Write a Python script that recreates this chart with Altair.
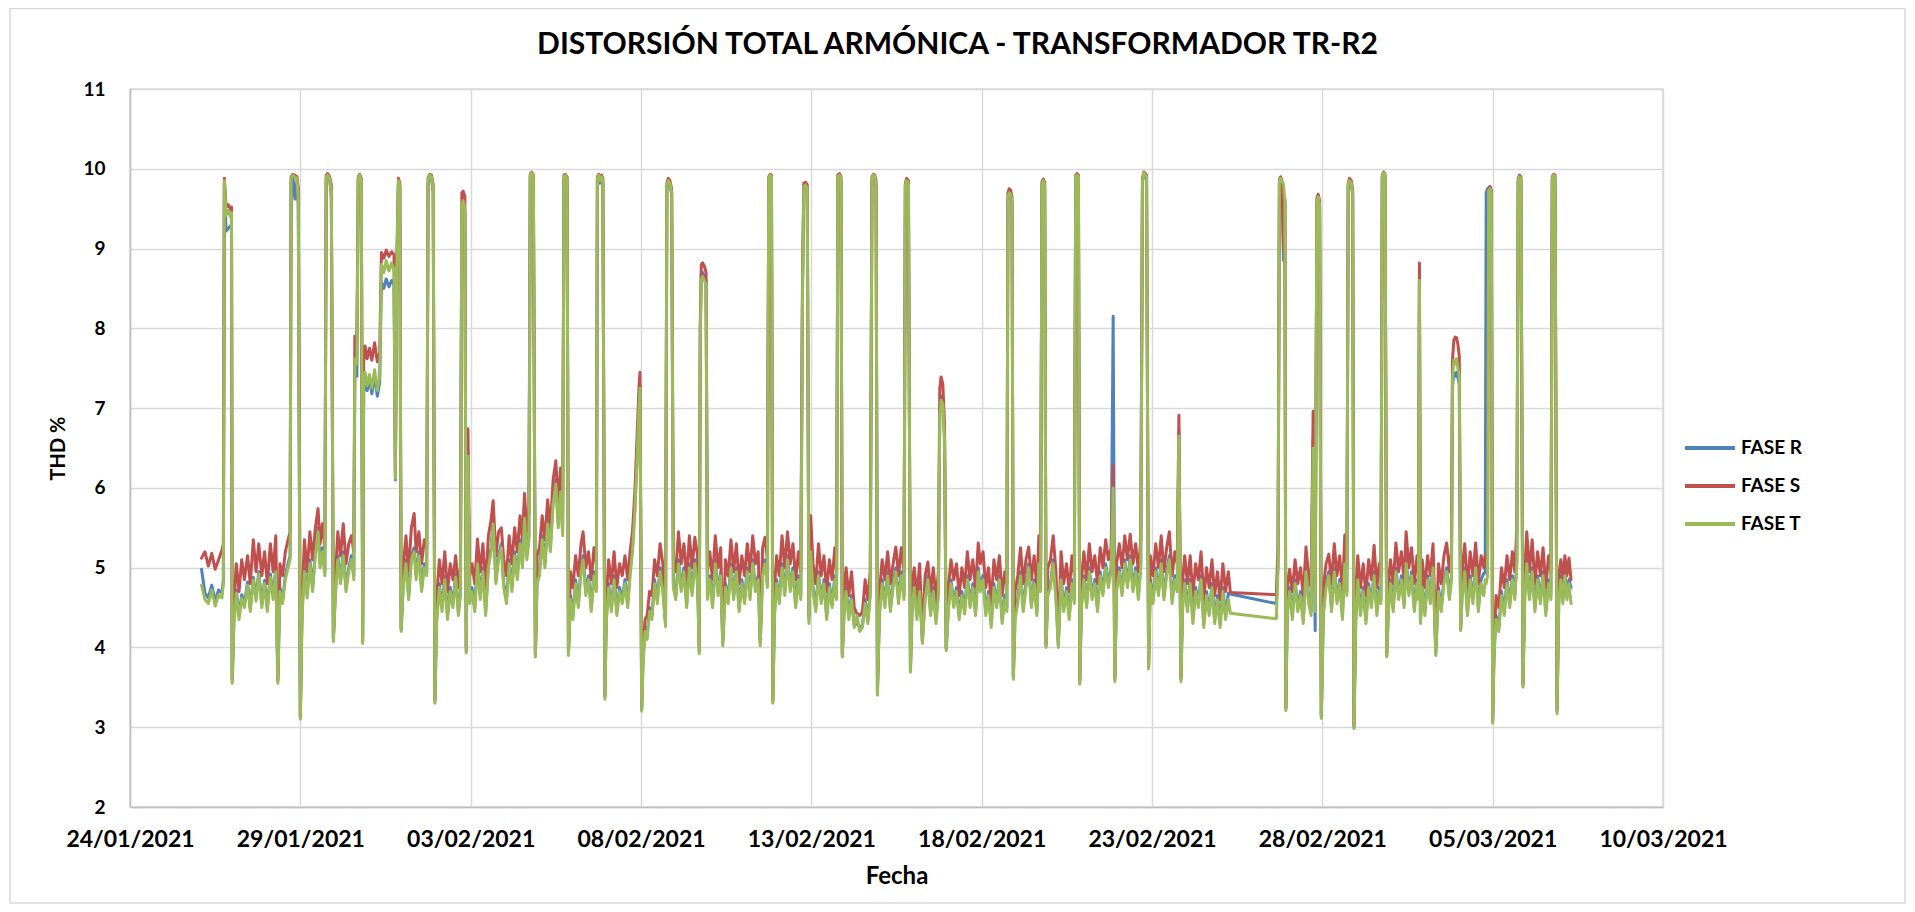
import altair as alt
import pandas as pd
import numpy as np

# ---------------- data ----------------
# time of each reading, in days counted from 24/01/2021 00:00, one sub-list per day
DAYS = [
    [2.10, 2.20, 2.30, 2.40, 2.50, 2.60, 2.70, 2.74, 2.77, 2.82, 2.88, 2.94, 2.98, 3.00],
    [3.05, 3.12, 3.20, 3.28, 3.36, 3.45, 3.53, 3.62, 3.70, 3.78, 3.87, 3.95],
    [4.03, 4.12, 4.20, 4.28, 4.34, 4.40, 4.48, 4.56, 4.64, 4.70, 4.73, 4.78, 4.84, 4.90, 4.94, 5.00],
    [5.05, 5.12, 5.20, 5.28, 5.36, 5.44, 5.52, 5.58, 5.65, 5.72, 5.76, 5.80, 5.86, 5.91, 5.97],
    [6.03, 6.10, 6.18, 6.26, 6.34, 6.42, 6.50, 6.57, 6.60, 6.66, 6.70, 6.74, 6.79, 6.83, 6.86, 6.90, 6.96],
    [7.03, 7.10, 7.18, 7.26, 7.33, 7.38, 7.45, 7.52, 7.60, 7.68, 7.75, 7.79, 7.83, 7.88, 7.92, 7.96],
    [8.02, 8.10, 8.18, 8.26, 8.34, 8.40, 8.48, 8.56, 8.64, 8.71, 8.75, 8.80, 8.85, 8.90, 8.95],
    [9.00, 9.08, 9.16, 9.24, 9.32, 9.40, 9.48, 9.56, 9.64, 9.70, 9.74, 9.78, 9.83, 9.87, 9.92, 9.97],
    [10.04, 10.12, 10.20, 10.28, 10.36, 10.44, 10.52, 10.60, 10.66, 10.74, 10.82, 10.90, 10.97],
    [11.05, 11.13, 11.21, 11.29, 11.37, 11.45, 11.52, 11.58, 11.65, 11.71, 11.75, 11.79, 11.84, 11.90, 11.95],
    [12.02, 12.10, 12.18, 12.26, 12.34, 12.42, 12.50, 12.57, 12.64, 12.70, 12.74, 12.78, 12.83, 12.87, 12.93],
    [13.00, 13.08, 13.16, 13.24, 13.30, 13.38, 13.46, 13.54, 13.62, 13.69, 13.72, 13.76, 13.80, 13.84, 13.88, 13.94],
    [13.98, 14.05, 14.13, 14.21, 14.29, 14.37, 14.45, 14.53, 14.61, 14.68, 14.75, 14.82, 14.88, 14.94, 14.97],
    [15.02, 15.06, 15.12, 15.18, 15.25, 15.32, 15.40, 15.48, 15.56, 15.64, 15.72, 15.76, 15.80, 15.85, 15.90, 15.95],
    [16.02, 16.10, 16.18, 16.26, 16.34, 16.42, 16.50, 16.58, 16.66, 16.71, 16.74, 16.77, 16.81, 16.86, 16.91, 16.95],
    [17.02, 17.10, 17.18, 17.26, 17.34, 17.40, 17.48, 17.56, 17.64, 17.72, 17.80, 17.88, 17.96],
    [18.04, 18.12, 18.20, 18.28, 18.36, 18.44, 18.50, 18.57, 18.64, 18.71, 18.75, 18.79, 18.83, 18.87, 18.92],
    [18.98, 19.06, 19.14, 19.22, 19.30, 19.38, 19.46, 19.54, 19.62, 19.69, 19.74, 19.78, 19.83, 19.88, 19.93, 19.98],
    [20.05, 20.13, 20.21, 20.29, 20.37, 20.45, 20.53, 20.61, 20.69, 20.74, 20.78, 20.83, 20.87, 20.91, 20.96],
    [21.02, 21.10, 21.18, 21.26, 21.34, 21.42, 21.50, 21.58, 21.66, 21.73, 21.78, 21.82, 21.86, 21.90, 21.94],
    [22.00, 22.08, 22.16, 22.24, 22.32, 22.40, 22.48, 22.56, 22.64, 22.72, 22.76, 22.80, 22.85, 22.91, 22.96],
    [23.02, 23.10, 23.18, 23.26, 23.34, 23.42, 23.50, 23.58, 23.66, 23.73, 23.77, 23.81, 23.86, 23.91, 23.96],
    [24.02, 24.10, 24.18, 24.26, 24.34, 24.42, 24.50, 24.58, 24.66, 24.74, 24.82, 24.90, 24.96],
    [25.04, 25.12, 25.20, 25.28, 25.36, 25.44, 25.52, 25.60, 25.68, 25.74, 25.77, 25.81, 25.85, 25.89, 25.93, 25.98],
    [26.06, 26.14, 26.22, 26.30, 26.38, 26.46, 26.54, 26.62, 26.68, 26.73, 26.77, 26.81, 26.85, 26.89, 26.94],
    [27.02, 27.10, 27.18, 27.25, 27.33, 27.41, 27.49, 27.57, 27.65, 27.72, 27.76, 27.80, 27.84, 27.88, 27.93],
    [28.00, 28.08, 28.16, 28.24, 28.32, 28.40, 28.48, 28.56, 28.64, 28.72, 28.80, 28.86, 28.91, 28.96],
    [29.04, 29.12, 29.20, 29.28, 29.36, 29.44, 29.52, 29.60, 29.67, 29.72, 29.76, 29.80, 29.84, 29.90, 29.95],
    [30.03, 30.11, 30.19, 30.27, 30.35, 30.43, 30.51, 30.59, 30.67, 30.74, 30.79, 30.85, 30.90, 30.96],
    [31.04, 31.12, 31.20, 31.28, 31.36, 31.44, 31.52, 31.60, 31.68, 31.76, 31.84, 31.92, 32.00, 32.08, 32.16, 32.24, 32.30],
    [33.65, 33.70, 33.74, 33.78, 33.82, 33.86, 33.90, 33.93, 33.97],
    [34.04, 34.12, 34.20, 34.28, 34.36, 34.44, 34.52, 34.60, 34.67, 34.73, 34.79, 34.84, 34.88, 34.92, 34.97],
    [35.03, 35.11, 35.19, 35.27, 35.35, 35.43, 35.51, 35.59, 35.66, 35.72, 35.76, 35.80, 35.85, 35.89, 35.93, 35.98],
    [36.04, 36.12, 36.20, 36.28, 36.36, 36.44, 36.52, 36.60, 36.67, 36.72, 36.76, 36.80, 36.84, 36.89, 36.94],
    [37.00, 37.08, 37.16, 37.24, 37.32, 37.40, 37.46, 37.54, 37.62, 37.70, 37.78, 37.82, 37.85, 37.88, 37.93],
    [38.01, 38.09, 38.17, 38.25, 38.33, 38.41, 38.49, 38.57, 38.65, 38.73, 38.79, 38.82, 38.86, 38.90, 38.94, 38.98, 39.02, 39.06],
    [39.10, 39.18, 39.26, 39.34, 39.42, 39.50, 39.58, 39.66, 39.74, 39.78, 39.81, 39.85, 39.88, 39.92, 39.96, 40.00],
    [40.04, 40.10, 40.18, 40.26, 40.34, 40.42, 40.50, 40.58, 40.65, 40.71, 40.75, 40.79, 40.83, 40.89, 40.94],
    [41.00, 41.08, 41.16, 41.24, 41.32, 41.40, 41.48, 41.56, 41.64, 41.71, 41.75, 41.79, 41.83, 41.89, 41.94],
    [42.00, 42.06, 42.12, 42.18, 42.24, 42.30],
]

FASE_T = [
    [4.78, 4.60, 4.55, 4.72, 4.52, 4.66, 4.62, 4.80, 9.85, 9.42, 9.48, 9.40, 9.45, 3.55],
    [4.30, 4.68, 4.35, 4.62, 4.50, 4.78, 4.45, 4.85, 4.58, 4.92, 4.50, 4.80],
    [4.45, 4.88, 4.60, 4.95, 3.55, 4.70, 4.55, 4.85, 5.00, 5.10, 9.88, 9.92, 9.90, 9.88, 9.60, 3.10],
    [4.40, 4.95, 4.62, 5.05, 4.70, 5.15, 5.45, 5.00, 5.20, 4.90, 9.90, 9.92, 9.88, 9.70, 4.07],
    [4.65, 5.10, 4.80, 5.15, 4.70, 4.95, 5.10, 4.85, 7.62, 7.55, 9.88, 9.92, 9.85, 4.05, 7.30, 7.45, 7.28],
    [7.42, 7.25, 7.48, 7.22, 7.40, 8.80, 8.70, 8.85, 8.72, 8.82, 8.75, 6.12, 8.70, 9.85, 9.80, 4.20],
    [4.75, 5.05, 4.60, 5.10, 5.20, 4.85, 5.15, 4.70, 5.00, 4.90, 9.85, 9.92, 9.90, 9.75, 3.30],
    [4.30, 4.75, 4.45, 4.85, 4.35, 4.70, 4.50, 4.88, 4.40, 4.65, 9.55, 9.60, 9.50, 3.93, 6.40, 4.55],
    [4.70, 4.45, 5.05, 4.60, 4.95, 4.40, 5.00, 5.20, 5.55, 4.80, 5.10, 5.25, 4.75],
    [4.55, 5.05, 4.70, 5.15, 4.85, 5.30, 5.00, 5.62, 5.10, 5.35, 9.92, 9.95, 9.90, 3.88, 4.80],
    [4.90, 5.35, 5.00, 5.55, 5.20, 5.80, 6.05, 5.50, 5.95, 5.40, 9.90, 9.92, 9.88, 3.90, 4.60],
    [4.35, 4.80, 4.50, 4.95, 5.10, 4.65, 4.85, 4.45, 4.90, 4.70, 9.88, 9.92, 9.85, 9.90, 9.85, 3.35],
    [4.30, 4.75, 4.45, 4.85, 4.40, 4.70, 4.55, 4.80, 4.50, 4.90, 5.20, 5.70, 6.30, 7.00, 7.25],
    [3.20, 3.80, 4.20, 4.10, 4.45, 4.35, 4.80, 4.55, 4.95, 4.70, 4.26, 9.80, 9.85, 9.82, 9.70, 4.75],
    [4.60, 5.05, 4.70, 4.95, 4.50, 5.00, 4.65, 5.05, 4.80, 3.92, 7.95, 8.62, 8.65, 8.60, 8.55, 4.60],
    [4.85, 4.50, 5.05, 4.65, 4.90, 4.02, 4.75, 4.55, 5.00, 4.60, 4.95, 4.45, 4.80],
    [4.55, 4.95, 4.60, 5.05, 4.70, 4.85, 4.02, 4.90, 5.05, 4.75, 9.88, 9.92, 9.90, 3.30, 4.40],
    [4.80, 4.55, 5.00, 4.65, 5.10, 4.70, 4.95, 4.50, 4.85, 4.60, 8.40, 9.78, 9.80, 9.75, 4.30, 5.20],
    [4.70, 4.45, 4.90, 4.55, 4.80, 4.35, 4.75, 4.50, 4.85, 4.60, 9.90, 9.92, 9.88, 3.88, 4.40],
    [4.70, 4.35, 4.60, 4.25, 4.40, 4.20, 4.25, 4.55, 4.30, 4.65, 9.88, 9.92, 9.90, 9.80, 3.40],
    [4.40, 4.80, 4.50, 4.90, 4.45, 4.75, 4.95, 4.55, 4.90, 4.60, 9.80, 9.85, 9.82, 3.69, 4.50],
    [4.75, 4.35, 4.70, 4.05, 4.60, 4.85, 4.40, 4.70, 4.30, 4.65, 6.90, 7.10, 7.05, 6.60, 3.96],
    [4.45, 4.80, 4.50, 4.70, 4.35, 4.65, 4.42, 4.85, 4.50, 4.75, 4.40, 4.95, 4.70],
    [4.85, 4.40, 4.65, 4.25, 4.75, 4.50, 4.85, 4.30, 4.60, 4.45, 9.65, 9.70, 9.68, 9.60, 3.60, 4.35],
    [4.55, 4.90, 4.45, 4.75, 5.00, 4.50, 4.80, 4.40, 5.05, 4.70, 9.82, 9.85, 9.80, 4.00, 4.65],
    [4.75, 5.05, 4.60, 4.00, 4.85, 4.45, 4.70, 4.35, 4.80, 4.55, 9.90, 9.92, 9.90, 3.54, 4.50],
    [4.85, 4.50, 4.95, 4.60, 4.80, 4.45, 4.90, 4.65, 5.00, 4.75, 4.95, 6.00, 3.57, 4.70],
    [4.95, 4.65, 5.05, 4.75, 5.10, 4.70, 4.95, 4.60, 5.00, 9.85, 9.95, 9.92, 9.90, 3.73, 4.80],
    [4.55, 4.95, 4.65, 5.05, 4.60, 4.90, 5.10, 4.55, 4.85, 4.70, 6.65, 3.57, 4.50, 4.80],
    [4.45, 4.80, 4.30, 4.70, 4.50, 4.85, 4.25, 4.65, 4.40, 4.75, 4.30, 4.60, 4.25, 4.70, 4.35, 4.60, 4.43],
    [4.36, 5.00, 9.85, 9.88, 9.85, 9.80, 9.60, 3.21, 4.40],
    [4.70, 4.35, 4.80, 4.45, 4.65, 4.30, 4.95, 4.55, 4.40, 6.50, 4.45, 9.60, 9.65, 9.55, 3.11],
    [4.40, 4.75, 4.90, 4.45, 4.95, 4.55, 4.80, 4.35, 5.05, 4.65, 9.80, 9.85, 9.82, 9.70, 2.98, 4.30],
    [4.85, 4.40, 4.70, 4.30, 4.75, 4.50, 4.90, 4.40, 4.70, 4.55, 9.90, 9.95, 9.92, 3.88, 4.45],
    [4.80, 4.45, 4.95, 4.60, 4.85, 4.50, 5.05, 4.65, 4.90, 4.45, 4.80, 4.60, 8.60, 4.30, 4.75],
    [4.40, 4.85, 4.55, 5.00, 3.90, 4.70, 4.45, 4.80, 4.95, 4.60, 4.85, 7.35, 7.60, 7.55, 7.62, 7.50, 7.40, 4.21],
    [4.60, 4.95, 4.40, 4.85, 4.55, 5.00, 4.45, 4.80, 4.65, 4.85, 4.80, 4.90, 9.72, 9.75, 9.70, 3.05],
    [3.90, 4.35, 4.20, 4.65, 4.40, 4.80, 4.50, 4.85, 4.60, 5.05, 9.85, 9.90, 9.88, 3.50, 4.60],
    [5.05, 4.60, 4.95, 4.45, 4.85, 4.55, 4.90, 4.40, 4.80, 4.60, 9.88, 9.92, 9.90, 3.17, 4.55],
    [4.85, 4.55, 4.90, 4.60, 4.80, 4.55],
]

FASE_S = [
    [5.12, 5.20, 5.02, 5.18, 4.98, 5.10, 5.22, 5.30, 9.88, 9.52, 9.55, 9.50, 9.52, 3.60],
    [4.55, 5.05, 4.70, 5.10, 4.85, 5.15, 4.80, 5.35, 4.95, 5.30, 4.90, 5.20],
    [4.80, 5.30, 4.95, 5.40, 3.60, 5.05, 4.90, 5.20, 5.35, 5.45, 9.90, 9.93, 9.92, 9.90, 9.75, 3.15],
    [4.60, 5.35, 4.95, 5.45, 5.10, 5.50, 5.74, 5.30, 5.55, 5.25, 9.92, 9.94, 9.90, 9.80, 4.12],
    [4.90, 5.45, 5.15, 5.55, 5.05, 5.30, 5.40, 5.20, 7.90, 7.85, 9.90, 9.93, 9.88, 4.10, 7.60, 7.78, 7.62],
    [7.75, 7.60, 7.82, 7.58, 7.70, 8.95, 8.88, 8.98, 8.90, 8.96, 8.92, 6.20, 8.85, 9.88, 9.82, 4.25],
    [5.00, 5.40, 4.95, 5.50, 5.68, 5.20, 5.45, 5.05, 5.35, 5.25, 9.88, 9.93, 9.92, 9.80, 3.35],
    [4.60, 5.10, 4.80, 5.20, 4.70, 5.05, 4.85, 5.15, 4.75, 5.00, 9.70, 9.72, 9.65, 4.00, 6.74, 4.90],
    [5.05, 4.80, 5.36, 4.95, 5.30, 4.75, 5.40, 5.60, 5.84, 5.15, 5.45, 5.50, 5.10],
    [4.90, 5.40, 5.05, 5.50, 5.20, 5.65, 5.35, 5.93, 5.45, 5.70, 9.93, 9.96, 9.92, 3.92, 5.15],
    [5.25, 5.65, 5.35, 5.85, 5.50, 6.10, 6.34, 5.80, 6.25, 5.70, 9.92, 9.93, 9.90, 3.95, 4.95],
    [4.75, 5.15, 4.90, 5.30, 5.45, 5.00, 5.20, 4.85, 5.25, 5.05, 9.90, 9.93, 9.88, 9.92, 9.88, 3.40],
    [4.60, 5.10, 4.80, 5.20, 4.75, 5.05, 4.90, 5.15, 4.85, 5.20, 5.45, 5.95, 6.60, 7.25, 7.45],
    [3.25, 4.00, 4.35, 4.40, 4.70, 4.65, 5.10, 4.90, 5.30, 5.05, 4.35, 9.82, 9.88, 9.85, 9.75, 5.10],
    [4.95, 5.45, 5.05, 5.30, 4.85, 5.40, 5.00, 5.38, 5.15, 4.00, 8.05, 8.80, 8.82, 8.78, 8.70, 4.95],
    [5.20, 4.85, 5.40, 5.00, 5.25, 4.10, 5.10, 4.90, 5.35, 4.95, 5.30, 4.80, 5.15],
    [4.90, 5.30, 4.95, 5.40, 5.05, 5.20, 4.10, 5.25, 5.38, 5.10, 9.90, 9.93, 9.92, 3.35, 4.75],
    [5.15, 4.90, 5.40, 5.00, 5.45, 5.05, 5.30, 4.85, 5.20, 4.95, 8.60, 9.82, 9.83, 9.80, 4.40, 5.65],
    [5.05, 4.80, 5.30, 4.90, 5.15, 4.70, 5.10, 4.85, 5.25, 4.95, 9.92, 9.94, 9.90, 3.92, 4.70],
    [5.00, 4.65, 4.95, 4.50, 4.42, 4.40, 4.45, 4.85, 4.60, 4.95, 9.90, 9.93, 9.92, 9.85, 3.45],
    [4.70, 5.10, 4.85, 5.20, 4.80, 5.05, 5.26, 4.90, 5.25, 4.95, 9.82, 9.88, 9.85, 3.75, 4.80],
    [5.00, 4.65, 5.05, 4.15, 4.90, 5.07, 4.70, 5.00, 4.60, 4.95, 7.25, 7.39, 7.30, 6.80, 4.00],
    [4.75, 5.10, 4.85, 5.05, 4.65, 5.00, 4.75, 5.20, 4.85, 5.10, 4.75, 5.31, 5.05],
    [5.20, 4.75, 5.00, 4.55, 5.10, 4.85, 5.15, 4.65, 4.95, 4.80, 9.70, 9.75, 9.73, 9.65, 3.65, 4.70],
    [4.90, 5.25, 4.80, 5.10, 5.26, 4.85, 5.15, 4.75, 5.40, 5.05, 9.84, 9.87, 9.83, 4.05, 5.00],
    [5.10, 5.40, 4.95, 4.10, 5.20, 4.80, 5.05, 4.70, 5.15, 4.90, 9.92, 9.94, 9.92, 3.60, 4.85],
    [5.20, 4.85, 5.30, 4.95, 5.15, 4.80, 5.25, 5.00, 5.35, 5.10, 5.25, 6.28, 3.62, 5.05],
    [5.30, 5.00, 5.40, 5.10, 5.42, 5.05, 5.30, 4.95, 5.35, 9.88, 9.96, 9.94, 9.92, 3.78, 5.15],
    [4.90, 5.30, 5.00, 5.40, 4.95, 5.25, 5.45, 4.90, 5.20, 5.05, 6.91, 3.62, 4.85, 5.15],
    [4.80, 5.15, 4.65, 5.05, 4.85, 5.20, 4.60, 5.00, 4.75, 5.10, 4.65, 4.95, 4.60, 5.05, 4.70, 4.95, 4.69],
    [4.66, 5.30, 9.87, 9.90, 9.80, 9.00, 9.62, 3.25, 4.75],
    [4.98, 4.70, 5.10, 4.80, 5.00, 4.65, 5.26, 4.90, 4.75, 6.96, 4.80, 9.63, 9.68, 9.60, 3.15],
    [4.75, 5.05, 5.17, 4.80, 5.30, 4.90, 5.15, 4.70, 5.41, 5.00, 9.82, 9.88, 9.85, 9.75, 3.02, 4.65],
    [5.15, 4.75, 5.05, 4.65, 5.10, 4.85, 5.28, 4.75, 5.05, 4.90, 9.92, 9.96, 9.93, 3.92, 4.80],
    [5.10, 4.80, 5.31, 4.95, 5.20, 4.85, 5.45, 5.00, 5.25, 4.80, 5.15, 4.95, 8.82, 4.35, 5.10],
    [4.75, 5.15, 4.90, 5.30, 4.00, 5.05, 4.80, 5.15, 5.31, 4.95, 5.20, 7.60, 7.85, 7.89, 7.88, 7.80, 7.65, 4.25],
    [4.95, 5.30, 4.75, 5.20, 4.90, 5.31, 4.80, 5.15, 5.00, 5.15, 5.10, 5.20, 9.74, 9.77, 9.72, 3.10],
    [4.05, 4.65, 4.50, 5.00, 4.75, 5.15, 4.85, 5.20, 4.95, 5.50, 9.88, 9.92, 9.90, 3.55, 4.95],
    [5.45, 4.95, 5.35, 4.80, 5.20, 4.90, 5.25, 4.75, 5.15, 4.95, 9.90, 9.93, 9.92, 3.22, 4.90],
    [5.10, 4.85, 5.15, 4.90, 5.12, 4.85],
]

FASE_R = [
    [4.98, 4.68, 4.62, 4.78, 4.58, 4.72, 4.68, 4.85, 9.82, 9.22, 9.25, 9.28, 9.30, 3.58],
    [4.35, 4.72, 4.40, 4.66, 4.55, 4.82, 4.50, 4.88, 4.62, 4.95, 4.55, 4.84],
    [4.50, 4.92, 4.65, 5.00, 3.58, 4.75, 4.60, 4.90, 5.05, 5.15, 9.85, 9.90, 9.62, 9.85, 9.55, 3.12],
    [4.45, 5.00, 4.66, 5.10, 4.75, 5.20, 5.50, 5.05, 5.25, 4.95, 9.88, 9.90, 9.86, 9.65, 4.10],
    [4.70, 5.15, 4.85, 5.20, 4.75, 5.00, 5.15, 4.90, 7.50, 7.40, 9.85, 9.90, 9.82, 4.08, 7.20, 7.35, 7.22],
    [7.35, 7.18, 7.40, 7.15, 7.32, 8.58, 8.50, 8.62, 8.52, 8.60, 8.55, 6.10, 8.55, 9.82, 9.78, 4.22],
    [4.80, 5.10, 4.65, 5.15, 5.25, 4.90, 5.20, 4.75, 5.05, 4.95, 9.82, 9.90, 9.88, 9.70, 3.32],
    [4.35, 4.80, 4.50, 4.90, 4.40, 4.75, 4.55, 4.92, 4.45, 4.70, 9.50, 9.55, 9.45, 3.95, 6.45, 4.60],
    [4.75, 4.50, 5.10, 4.65, 5.00, 4.45, 5.05, 5.25, 5.60, 4.85, 5.15, 5.30, 4.80],
    [4.60, 5.10, 4.75, 5.20, 4.90, 5.35, 5.05, 5.66, 5.15, 5.40, 9.90, 9.93, 9.88, 3.90, 4.85],
    [4.95, 5.40, 5.05, 5.60, 5.25, 5.85, 6.10, 5.55, 6.00, 5.45, 9.88, 9.90, 9.86, 3.92, 4.65],
    [4.40, 4.85, 4.55, 5.00, 5.15, 4.70, 4.90, 4.50, 4.95, 4.75, 9.85, 9.90, 9.82, 9.88, 9.82, 3.38],
    [4.35, 4.80, 4.50, 4.90, 4.45, 4.75, 4.60, 4.85, 4.55, 4.95, 5.25, 5.75, 6.35, 7.05, 7.28],
    [3.22, 3.85, 4.25, 4.15, 4.50, 4.40, 4.85, 4.60, 5.00, 4.75, 4.30, 9.78, 9.82, 9.80, 9.68, 4.80],
    [4.65, 5.10, 4.75, 5.00, 4.55, 5.05, 4.70, 5.10, 4.85, 3.95, 7.98, 8.68, 8.70, 8.65, 8.60, 4.65],
    [4.90, 4.55, 5.10, 4.70, 4.95, 4.05, 4.80, 4.60, 5.05, 4.65, 5.00, 4.50, 4.85],
    [4.60, 5.00, 4.65, 5.10, 4.75, 4.90, 4.05, 4.95, 5.10, 4.80, 9.86, 9.90, 9.88, 3.32, 4.45],
    [4.85, 4.60, 5.05, 4.70, 5.15, 4.75, 5.00, 4.55, 4.90, 4.65, 8.45, 9.80, 9.82, 9.76, 4.35, 5.25],
    [4.75, 4.50, 4.95, 4.60, 4.85, 4.40, 4.80, 4.55, 4.90, 4.65, 9.88, 9.90, 9.86, 3.90, 4.45],
    [4.75, 4.40, 4.65, 4.28, 4.30, 4.25, 4.28, 4.60, 4.35, 4.70, 9.86, 9.90, 9.88, 9.78, 3.42],
    [4.45, 4.85, 4.55, 4.95, 4.50, 4.80, 5.00, 4.60, 4.95, 4.65, 9.78, 9.82, 9.80, 3.72, 4.55],
    [4.80, 4.40, 4.75, 4.08, 4.65, 4.90, 4.45, 4.75, 4.35, 4.70, 6.95, 7.15, 7.10, 6.62, 3.98],
    [4.50, 4.85, 4.55, 4.75, 4.40, 4.70, 4.47, 4.90, 4.55, 4.80, 4.45, 5.00, 4.75],
    [4.90, 4.45, 4.70, 4.30, 4.80, 4.55, 4.90, 4.35, 4.65, 4.50, 9.62, 9.68, 9.66, 9.58, 3.62, 4.40],
    [4.60, 4.95, 4.50, 4.80, 5.05, 4.55, 4.85, 4.45, 5.10, 4.75, 9.80, 9.83, 9.78, 4.02, 4.70],
    [4.80, 5.10, 4.65, 4.03, 4.90, 4.50, 4.75, 4.40, 4.85, 4.60, 9.88, 9.90, 9.88, 3.56, 4.55],
    [4.90, 4.55, 5.00, 4.65, 4.85, 4.50, 4.95, 4.70, 5.05, 4.80, 5.00, 8.15, 3.60, 4.75],
    [5.00, 4.70, 5.10, 4.80, 5.15, 4.75, 5.00, 4.65, 5.05, 9.82, 9.93, 9.90, 9.88, 3.75, 4.85],
    [4.60, 5.00, 4.70, 5.10, 4.65, 4.95, 5.15, 4.60, 4.90, 4.75, 6.70, 3.60, 4.55, 4.85],
    [4.50, 4.85, 4.35, 4.75, 4.55, 4.90, 4.30, 4.70, 4.45, 4.80, 4.35, 4.65, 4.30, 4.75, 4.40, 4.68, 4.67],
    [4.55, 5.05, 9.84, 9.86, 9.78, 8.85, 9.58, 3.23, 4.45],
    [4.75, 4.40, 4.85, 4.50, 4.70, 4.35, 5.00, 4.60, 4.45, 6.60, 4.21, 9.58, 9.62, 9.52, 3.13],
    [4.45, 4.80, 4.95, 4.50, 5.00, 4.60, 4.85, 4.40, 5.10, 4.70, 9.78, 9.82, 9.80, 9.68, 3.00, 4.35],
    [4.90, 4.45, 4.75, 4.35, 4.80, 4.55, 4.95, 4.45, 4.75, 4.60, 9.88, 9.93, 9.90, 3.90, 4.50],
    [4.85, 4.50, 5.00, 4.65, 4.90, 4.55, 5.10, 4.70, 4.95, 4.50, 4.85, 4.65, 8.60, 4.32, 4.80],
    [4.45, 4.90, 4.60, 5.05, 3.92, 4.75, 4.50, 4.85, 5.00, 4.65, 4.90, 7.25, 7.44, 7.40, 7.45, 7.38, 7.30, 4.23],
    [4.65, 5.00, 4.45, 4.90, 4.60, 5.05, 4.50, 4.85, 4.93, 4.93, 9.70, 9.75, 9.76, 9.78, 9.73, 3.08],
    [3.95, 4.40, 4.25, 4.70, 4.45, 4.85, 4.55, 4.90, 4.65, 5.10, 9.84, 9.88, 9.86, 3.52, 4.65],
    [5.10, 4.65, 5.00, 4.50, 4.90, 4.60, 4.95, 4.45, 4.85, 4.65, 9.86, 9.90, 9.88, 3.20, 4.60],
    [4.90, 4.60, 4.95, 4.65, 4.85, 4.75],
]

SERIES = ["FASE R", "FASE S", "FASE T"]
COLORS = ["#4F81BD", "#C0504D", "#9BBB59"]
TICK_DATES = [(2021, 1, 24), (2021, 1, 29), (2021, 2, 3), (2021, 2, 8), (2021, 2, 13),
              (2021, 2, 18), (2021, 2, 23), (2021, 2, 28), (2021, 3, 5), (2021, 3, 10)]

TITLE = "DISTORSIÓN TOTAL ARMÓNICA - TRANSFORMADOR TR-R2"

# ---------------- build the table ----------------
for i, (d, t, s, r) in enumerate(zip(DAYS, FASE_T, FASE_S, FASE_R)):
    if not (len(d) == len(t) == len(s) == len(r)):
        raise ValueError(f"block {i}: {len(d)} {len(t)} {len(s)} {len(r)}")

days = [v for blk in DAYS for v in blk]
base = pd.Timestamp("2021-01-24")
stamps = (base + pd.to_timedelta(np.array(days), unit="D")).round("min")
stamps = [ts.strftime("%Y-%m-%dT%H:%M:%S") for ts in stamps]

rows = []
for name, series in zip(SERIES, [FASE_R, FASE_S, FASE_T]):
    vals = [v for blk in series for v in blk]
    for ts, v in zip(stamps, vals):
        rows.append({"fecha": ts, "thd": v, "fase": name})
df = pd.DataFrame(rows)

FONT = "Lato"

def dt(y, m, d):
    return alt.DateTime(year=y, month=m, date=d)

x_enc = alt.X(
    "fecha:T",
    title="Fecha",
    scale=alt.Scale(domain=[dt(*TICK_DATES[0]), dt(*TICK_DATES[-1])], nice=False),
    axis=alt.Axis(
        values=[dt(*t) for t in TICK_DATES],
        format="%d/%m/%Y",
        labelAngle=0,
        labelFlush=False,
        labelOverlap=False,
        labelBound=False,
        ticks=False,
        labelPadding=32,
        labelBaseline="middle",
        labelFont=FONT,
        labelFontSize=23,
        labelFontWeight="bold",
        labelColor="black",
        grid=True,
        gridColor="#D9D9D9",
        gridWidth=1.5,
        domainColor="#BFBFBF",
        domainWidth=1.5,
        titleFont=FONT,
        titleFontSize=24,
        titleFontWeight="bold",
        titleColor="black",
        titleY=69,
        titleBaseline="middle",
    ),
)

y_enc = alt.Y(
    "thd:Q",
    title="THD %",
    scale=alt.Scale(domain=[2, 11], nice=False, zero=False),
    axis=alt.Axis(
        values=list(range(2, 12)),
        ticks=False,
        labelPadding=25,
        labelFont=FONT,
        labelFontSize=19,
        labelFontWeight="bold",
        labelColor="black",
        grid=True,
        gridColor="#D9D9D9",
        gridWidth=1.5,
        domainColor="#BFBFBF",
        domainWidth=1.5,
        titleFont=FONT,
        titleFontSize=20,
        titleFontWeight="bold",
        titleColor="black",
        titleAngle=270,
        titleX=-72,
        titleY=359,
        titleAlign="center",
        titleBaseline="middle",
    ),
)

color_enc = alt.Color(
    "fase:N",
    scale=alt.Scale(domain=SERIES, range=COLORS),
    legend=alt.Legend(
        title=None,
        orient="none",
        legendX=1553,
        legendY=349,
        direction="vertical",
        symbolType="stroke",
        symbolSize=2500,
        symbolStrokeWidth=4,
        clipHeight=20,
        rowPadding=18,
        padding=0,
        labelOffset=4,
        labelFont=FONT,
        labelFontSize=19,
        labelFontWeight="bold",
        labelColor="black",
    ),
)

base_chart = alt.Chart(df).mark_line(strokeWidth=3, strokeJoin="round", strokeCap="round").encode(
    x=x_enc, y=y_enc, color=color_enc
)
lines = [base_chart.transform_filter(alt.datum.fase == s) for s in SERIES]

frame = alt.Chart(pd.DataFrame({"k": [0]})).mark_rect(
    fill="transparent", stroke="#D9D9D9", strokeWidth=1.5
).encode(
    x=alt.value(-120), x2=alt.value(1775), y=alt.value(-80.5), y2=alt.value(814)
)

chart = alt.layer(frame, *lines).properties(
    width=1533,
    height=718,
    padding={"left": 122, "top": 81, "right": 244, "bottom": 97},
    autosize=alt.AutoSizeParams(type="none"),
    title=alt.TitleParams(
        TITLE,
        font=FONT,
        fontSize=30,
        fontWeight="bold",
        color="black",
        anchor="middle",
        frame="group",
        baseline="middle",
        dx=61,
        dy=67,
        offset=0,
    ),
    background="white",
).configure_view(stroke="#D9D9D9", strokeWidth=1.5)

chart.save("out.html", embed_options={"renderer": "svg", "actions": False})
